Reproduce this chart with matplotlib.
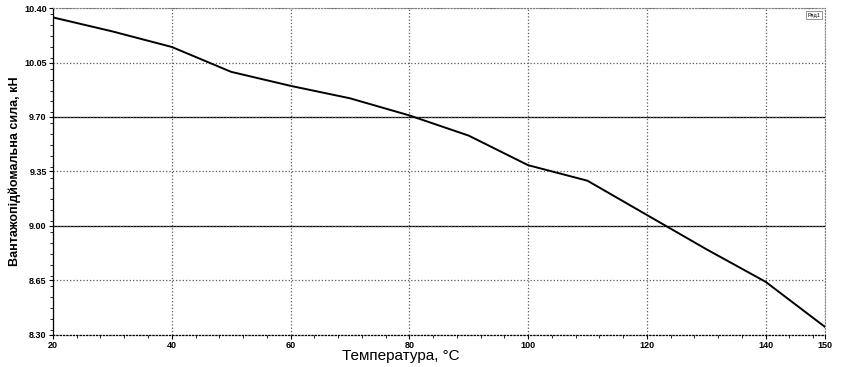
import numpy as np
import matplotlib.pyplot as plt
from matplotlib.ticker import MultipleLocator

# температура, °C
temp = [20, 30, 40, 50, 60, 70, 80, 90, 100, 110, 120, 130, 140, 150]
# вантажопідйомна сила, кН
force = [10.34, 10.25, 10.15, 9.99, 9.90, 9.82, 9.71, 9.58, 9.39, 9.29, 9.07, 8.85, 8.64, 8.35]

xticks = [20, 40, 60, 80, 100, 120, 140, 150]
yticks = [8.30, 8.65, 9.00, 9.35, 9.70, 10.05, 10.40]

plt.rcParams['font.family'] = ['Liberation Sans', 'DejaVu Sans']

fig = plt.figure(figsize=(8.41, 3.67), dpi=100)
ax = fig.add_axes([0.063, 0.088, 0.918, 0.890])

ax.plot(temp, force, 'k-', lw=1.4, label='Ряд1')

ax.set_xlim(20, 150)
ax.set_ylim(8.30, 10.40)
ax.set_xticks(xticks)
ax.set_yticks(yticks)
ax.set_yticklabels(['%.2f' % v for v in yticks])
ax.xaxis.set_minor_locator(MultipleLocator(4))
ax.yaxis.set_minor_locator(MultipleLocator(0.07))

# сітка
ax.grid(True, which='major', color='0.35', ls=':', lw=0.9)
for v in [9.70, 9.00]:
    ax.axhline(v, color='k', lw=0.9, zorder=1)

for s in ['top', 'right']:
    ax.spines[s].set_color('0.5')
    ax.spines[s].set_linestyle(':')
for s in ['left', 'bottom']:
    ax.spines[s].set_color('k')
    ax.spines[s].set_linewidth(0.9)
ax.spines['bottom'].set_linestyle(':')

ax.tick_params(axis='both', which='major', labelsize=6.5, length=3, direction='out', pad=1.5)
ax.tick_params(axis='both', which='minor', length=2)
for lab in ax.get_xticklabels() + ax.get_yticklabels():
    lab.set_fontweight('bold')

ax.set_xlabel('Температура, °C', fontsize=11, labelpad=-0.5, x=0.45)
ax.set_ylabel('Вантажопідйомальна сила, кН', fontsize=9, fontweight='bold', labelpad=2)

leg = ax.legend(loc='upper right', fontsize=4, frameon=True, handlelength=0,
                handletextpad=0, borderpad=0.3, fancybox=False)
leg.get_frame().set_edgecolor('0.4')
leg.get_frame().set_linewidth(0.6)
for h in leg.legend_handles:
    h.set_visible(False)

plt.savefig('out.png', dpi=100)
